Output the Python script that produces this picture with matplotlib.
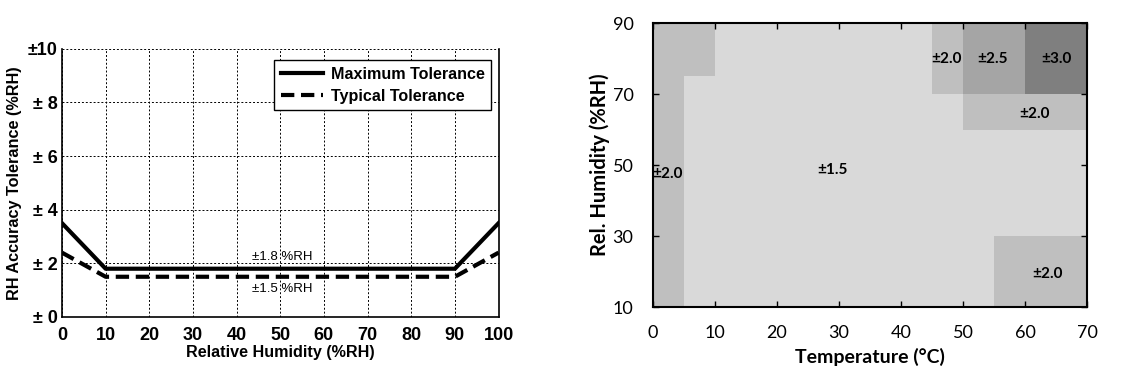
import matplotlib
matplotlib.use('Agg')
import matplotlib.pyplot as plt
from matplotlib.colors import ListedColormap, BoundaryNorm
import numpy as np

# left chart: tolerance vs RH
rh_pts = [0, 10, 90, 100]
max_tol = [3.5, 1.8, 1.8, 3.5]
typ_tol = [2.4, 1.5, 1.5, 2.4]
left_yticks = [0, 2, 4, 6, 8, 10]
left_ylabels = ['± 0', '± 2', '± 4', '± 6', '± 8', '±10']

# right chart: tolerance map, rows RH 10..90 (step 5), cols T 0..70 (step 5)
temp_edges = list(range(0, 75, 5))
rh_edges = list(range(10, 95, 5))
tol_map = [
    [2.0, 1.5, 1.5, 1.5, 1.5, 1.5, 1.5, 1.5, 1.5, 1.5, 1.5, 2.0, 2.0, 2.0],  # 10-15
    [2.0, 1.5, 1.5, 1.5, 1.5, 1.5, 1.5, 1.5, 1.5, 1.5, 1.5, 2.0, 2.0, 2.0],  # 15-20
    [2.0, 1.5, 1.5, 1.5, 1.5, 1.5, 1.5, 1.5, 1.5, 1.5, 1.5, 2.0, 2.0, 2.0],  # 20-25
    [2.0, 1.5, 1.5, 1.5, 1.5, 1.5, 1.5, 1.5, 1.5, 1.5, 1.5, 2.0, 2.0, 2.0],  # 25-30
    [2.0, 1.5, 1.5, 1.5, 1.5, 1.5, 1.5, 1.5, 1.5, 1.5, 1.5, 1.5, 1.5, 1.5],  # 30-35
    [2.0, 1.5, 1.5, 1.5, 1.5, 1.5, 1.5, 1.5, 1.5, 1.5, 1.5, 1.5, 1.5, 1.5],  # 35-40
    [2.0, 1.5, 1.5, 1.5, 1.5, 1.5, 1.5, 1.5, 1.5, 1.5, 1.5, 1.5, 1.5, 1.5],  # 40-45
    [2.0, 1.5, 1.5, 1.5, 1.5, 1.5, 1.5, 1.5, 1.5, 1.5, 1.5, 1.5, 1.5, 1.5],  # 45-50
    [2.0, 1.5, 1.5, 1.5, 1.5, 1.5, 1.5, 1.5, 1.5, 1.5, 1.5, 1.5, 1.5, 1.5],  # 50-55
    [2.0, 1.5, 1.5, 1.5, 1.5, 1.5, 1.5, 1.5, 1.5, 1.5, 1.5, 1.5, 1.5, 1.5],  # 55-60
    [2.0, 1.5, 1.5, 1.5, 1.5, 1.5, 1.5, 1.5, 1.5, 1.5, 2.0, 2.0, 2.0, 2.0],  # 60-65
    [2.0, 1.5, 1.5, 1.5, 1.5, 1.5, 1.5, 1.5, 1.5, 1.5, 2.0, 2.0, 2.0, 2.0],  # 65-70
    [2.0, 1.5, 1.5, 1.5, 1.5, 1.5, 1.5, 1.5, 1.5, 2.0, 2.5, 2.5, 3.0, 3.0],  # 70-75
    [2.0, 2.0, 1.5, 1.5, 1.5, 1.5, 1.5, 1.5, 1.5, 2.0, 2.5, 2.5, 3.0, 3.0],  # 75-80
    [2.0, 2.0, 1.5, 1.5, 1.5, 1.5, 1.5, 1.5, 1.5, 2.0, 2.5, 2.5, 3.0, 3.0],  # 80-85
    [2.0, 2.0, 1.5, 1.5, 1.5, 1.5, 1.5, 1.5, 1.5, 2.0, 2.5, 2.5, 3.0, 3.0],  # 85-90
]
label_text = ['±2.0', '±1.5', '±2.0', '±2.5', '±3.0', '±2.0', '±2.0']
label_t = [2.3, 29, 47.3, 54.8, 65.1, 61.5, 63.7]
label_rh = [47.5, 48.6, 80, 80, 80, 64.4, 19.3]

fig = plt.figure(figsize=(11.37, 3.76), dpi=100)

# ---- left ----
ax1 = fig.add_axes([0.0545, 0.157, 0.384, 0.713])
arial = 'Liberation Sans'
ax1.plot(rh_pts, max_tol, color='black', lw=3, label='Maximum Tolerance')
ax1.plot(rh_pts, typ_tol, color='black', lw=3, ls=(0, (3.2, 1.6)), label='Typical Tolerance')
ax1.set_xlim(0, 100)
ax1.set_ylim(0, 10)
ax1.set_xticks(range(0, 101, 10))
ax1.set_yticks(left_yticks)
ax1.set_yticklabels(left_ylabels)
ax1.grid(True, color='black', ls=(0, (2, 2)), lw=0.7)
ax1.tick_params(length=0)
ax1.tick_params(axis='x', pad=7)
ax1.tick_params(axis='y', pad=3)
for lab in ax1.get_xticklabels() + ax1.get_yticklabels():
    lab.set_fontfamily(arial)
    lab.set_fontweight('bold')
    lab.set_fontsize(13)
ax1.spines['top'].set_visible(False)
for s in ['left', 'bottom', 'right']:
    ax1.spines[s].set_linewidth(1.2)
ax1.set_xlabel('Relative Humidity (%RH)', fontfamily=arial, fontweight='bold', fontsize=11.6, labelpad=1)
ax1.set_ylabel('RH Accuracy Tolerance (%RH)', fontfamily=arial, fontweight='bold', fontsize=11.7, labelpad=4)
ax1.text(50.5, 2.25, '±1.8 %RH', ha='center', va='center', fontfamily=arial, fontsize=9.5)
ax1.text(50.5, 1.05, '±1.5 %RH', ha='center', va='center', fontfamily=arial, fontsize=9.5)
leg = ax1.legend(loc='upper right', bbox_to_anchor=(0.99, 0.97), fancybox=False, edgecolor='black',
                 framealpha=1, handlelength=2.6, handletextpad=0.5, borderpad=0.4, labelspacing=0.45,
                 borderaxespad=0.2, prop={'family': arial, 'weight': 'bold', 'size': 11.6})
leg.get_frame().set_linewidth(1.0)

# ---- right ----
ax2 = fig.add_axes([0.5743, 0.1835, 0.3817, 0.7553])
cmap = ListedColormap(['#d9d9d9', '#bfbfbf', '#a5a5a5', '#7f7f7f'])
norm = BoundaryNorm([1.25, 1.75, 2.25, 2.75, 3.25], cmap.N)
ax2.pcolormesh(temp_edges, rh_edges, np.array(tol_map), cmap=cmap, norm=norm)
ax2.set_xlim(0, 70)
ax2.set_ylim(10, 90)
ax2.set_xticks(range(0, 71, 10))
ax2.set_yticks([10, 30, 50, 70, 90])
calib = 'Lato'
ax2.tick_params(direction='in', top=True, right=True, length=4, width=1)
ax2.tick_params(axis='x', pad=13)
ax2.tick_params(axis='y', pad=14)
for lab in ax2.get_xticklabels() + ax2.get_yticklabels():
    lab.set_fontfamily(calib)
    lab.set_fontsize(13)
for s in ax2.spines.values():
    s.set_linewidth(1.5)
ax2.set_xlabel('Temperature (°C)', fontfamily=calib, fontweight='bold', fontsize=14, labelpad=5)
ax2.set_ylabel('Rel. Humidity (%RH)', fontfamily=calib, fontweight='bold', fontsize=14.5, labelpad=2)
for t, x, y in zip(label_text, label_t, label_rh):
    ax2.text(x, y, t, ha='center', va='center', fontfamily=calib, fontweight='bold', fontsize=11)

fig.savefig('out.png', dpi=100)
